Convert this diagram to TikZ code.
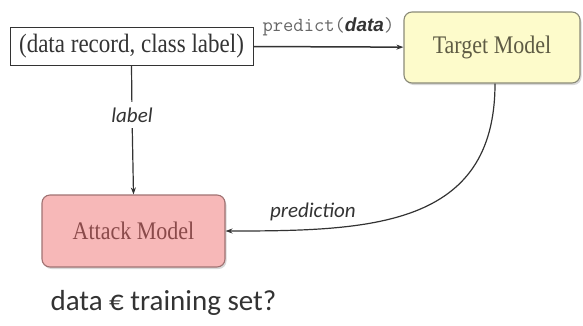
\documentclass[tikz,border=0pt]{standalone}
\usepackage{fontspec}
\usepackage{graphicx}
\setmainfont{Liberation Serif}
\newfontfamily\calibrifont{Carlito}
\newfontfamily\arialfont{Liberation Sans}
\usetikzlibrary{arrows.meta,positioning,shadows}
\definecolor{ink}{HTML}{333333}
\definecolor{paleyellow}{HTML}{FDFBCB}
\definecolor{yellowedge}{HTML}{8A8A78}
\definecolor{palered}{HTML}{F7B8B8}
\definecolor{rededge}{HTML}{A07272}
\definecolor{redtext}{HTML}{8A4A4A}
\definecolor{olivetext}{HTML}{5E5B44}
\newcommand{\tallbox}[1]{\scalebox{1}[1.15]{#1}}

\begin{document}
\begin{tikzpicture}[x=1pt,y=-1pt,>={Stealth[length=7pt,width=5pt]},
 model/.style={rounded corners=8pt,line width=1.1pt,align=center,inner sep=0pt,
 drop shadow={shadow xshift=1.5pt,shadow yshift=-2pt,fill=black!30}},
 edge/.style={->,line width=1.2pt,draw=ink},
 tag/.style={font=\calibrifont\itshape\fontsize{21}{24}\selectfont,text=ink}]
\useasboundingbox (0,0) rectangle (583,325);
\node[draw=ink,line width=1pt,minimum width=243pt,minimum height=38pt,inner sep=0pt,
 font=\fontsize{23}{26}\selectfont,text=ink] (record) at (131.5,46) {\tallbox{(data record, class label)}};
\node[model,draw=yellowedge,fill=paleyellow,minimum width=176pt,minimum height=71pt,
 font=\fontsize{22}{25}\selectfont,text=olivetext] (target) at (492,47.5) {\tallbox{Target Model}};
\node[model,draw=rededge,fill=palered,minimum width=183pt,minimum height=72pt,
 font=\fontsize{22}{25}\selectfont,text=redtext] (attack) at (133.5,231) {\tallbox{Attack Model}};
\node[tag,inner ysep=6pt,text height=14pt,text depth=0pt] (lab) at (132,115) {label};
\node[anchor=base west,font=\calibrifont\fontsize{29}{33}\selectfont,text=ink] (question) at (47,310) {data € training set?};
\coordinate (bend) at ([xshift=3pt]target.south);
\draw[edge,line width=1.5pt] (record) -- node[above=7pt,text=black!60] {\ttfamily\fontsize{20}{22}\selectfont predict(\arialfont\bfseries\itshape\fontsize{19}{22}\selectfont\textcolor{ink}{data}\ttfamily\mdseries\upshape\fontsize{20}{22}\selectfont)} (target);
\draw[line width=1.2pt,draw=ink] (record.south) -- (lab);
\draw[edge] (lab) -- (attack.north);
\draw[edge] (bend) to[out=-90,in=0,looseness=1.2] node[tag,pos=0.79,above=4pt] {prediction} (attack.east);
\end{tikzpicture}
\end{document}
